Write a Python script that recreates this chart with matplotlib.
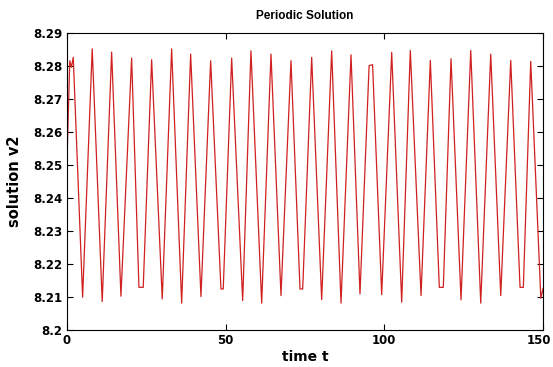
import numpy as np
import matplotlib
matplotlib.use('Agg')
import matplotlib.pyplot as plt
import matplotlib.transforms as mtransforms

t = [0.0, 0.9, 1.4, 2.0, 4.95, 7.97, 11.12, 14.09, 17.02, 20.39, 22.69, 24.04,
     26.69, 30.03, 32.99, 36.15, 38.98, 42.23, 45.28, 48.53, 49.25, 51.90,
     55.37, 57.98, 61.36, 64.29, 67.44, 70.59, 73.43, 74.28, 77.11, 80.26,
     83.41, 86.35, 89.50, 92.33, 95.20, 96.30, 99.17, 102.32, 105.47, 108.18,
     111.56, 114.49, 117.32, 118.58, 121.01, 124.16, 127.22, 130.37, 133.52,
     136.67, 139.82, 142.75, 143.79, 146.12, 149.30, 150.0]
v2 = [8.2502, 8.2815, 8.2795, 8.2825, 8.2098, 8.2851, 8.2085, 8.2841, 8.2101,
      8.2823, 8.2128, 8.2128, 8.2818, 8.2093, 8.2851, 8.2080, 8.2835, 8.2100,
      8.2815, 8.2123, 8.2123, 8.2823, 8.2088, 8.2845, 8.2080, 8.2835, 8.2103,
      8.2815, 8.2123, 8.2123, 8.2825, 8.2091, 8.2845, 8.2080, 8.2833, 8.2108,
      8.2800, 8.2803, 8.2106, 8.2840, 8.2083, 8.2846, 8.2103, 8.2816, 8.2128,
      8.2128, 8.2821, 8.2090, 8.2846, 8.2080, 8.2835, 8.2103, 8.2816, 8.2128,
      8.2128, 8.2813, 8.2095, 8.2125]

xticks = [0, 50, 100, 150]
yticks = [8.2, 8.21, 8.22, 8.23, 8.24, 8.25, 8.26, 8.27, 8.28, 8.29]
ytick_labels = ['8.2', '8.21', '8.22', '8.23', '8.24', '8.25', '8.26', '8.27', '8.28', '8.29']

plt.rcParams['font.family'] = ['DejaVu Sans']

fig = plt.figure(figsize=(5.53, 3.67), dpi=100)
ax = fig.add_axes([0.121, 0.102, 0.861, 0.809])

ax.plot(t, v2, color='#d02020', lw=0.9)

ax.set_xlim(0, 150)
ax.set_ylim(8.2, 8.29)
ax.set_xticks(xticks)
ax.set_yticks(yticks)
ax.set_yticklabels(ytick_labels)
ax.tick_params(direction='in', top=True, right=True, length=4, width=0.8,
               labelsize=8.5, pad=3)
for lab in ax.get_xticklabels() + ax.get_yticklabels():
    lab.set_fontweight('bold')
for sp in ax.spines.values():
    sp.set_linewidth(0.8)

# nudge the last x label so it stays inside the picture
last = ax.get_xticklabels()[-1]
last.set_transform(last.get_transform() +
                   mtransforms.ScaledTranslation(-4 / 100, 0, fig.dpi_scale_trans))

ax.set_title('Periodic Solution', fontsize=8.5, fontweight='bold', pad=10,
             family=['Liberation Sans', 'DejaVu Sans'])
ax.set_xlabel('time t', fontsize=10, fontweight='bold', labelpad=2.5)
ax.set_ylabel('solution v2', fontsize=10.5, fontweight='bold', labelpad=8)

fig.savefig('out.png', dpi=100)
